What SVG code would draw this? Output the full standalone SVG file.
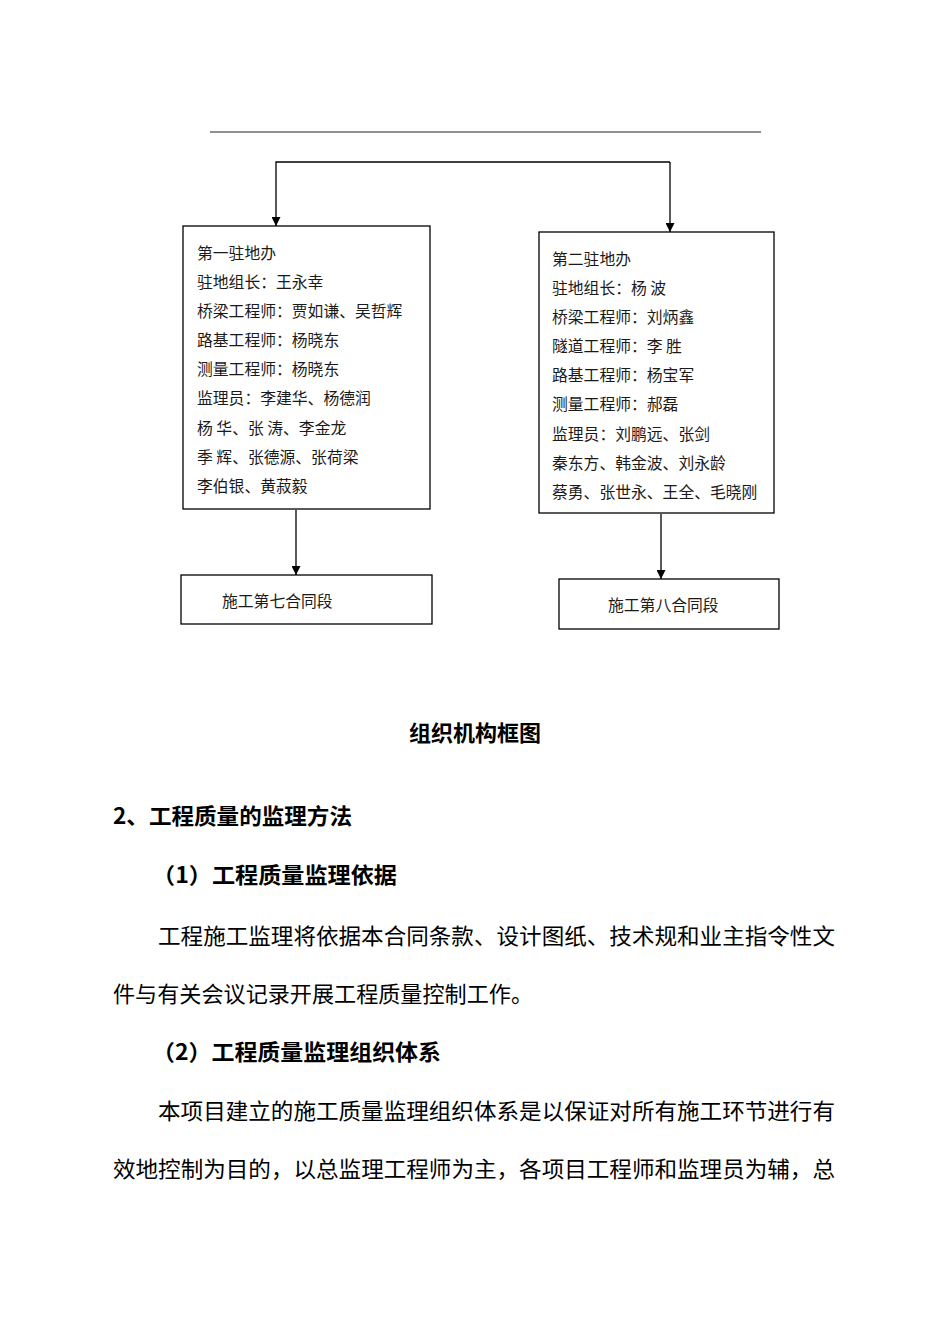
<svg xmlns="http://www.w3.org/2000/svg" width="950" height="1344" viewBox="0 0 950 1344">
<defs>
<style>
.bx{fill:#fff;stroke:#000;stroke-width:1.3}
.ln{fill:none;stroke:#000;stroke-width:1.3}
.t{font-family:"Noto Sans CJK SC","Noto Sans CJK JP",sans-serif;font-size:15.8px;fill:#1a1a1a}
.h{font-family:"Noto Sans CJK SC","Noto Sans CJK JP",sans-serif;font-size:22px;font-weight:bold;fill:#000}
.p{font-family:"Noto Sans CJK SC","Noto Sans CJK JP",sans-serif;font-size:22px;fill:#000}
</style>
<marker id="ah" viewBox="0 0 10 10" refX="10" refY="5" markerWidth="11" markerHeight="9" markerUnits="userSpaceOnUse" orient="auto">
<path d="M0,0 L10,5 L0,10 Z" fill="#000"/>
</marker>
</defs>
<rect width="950" height="1344" fill="#fff"/>
<line x1="210" y1="132" x2="761" y2="132" stroke="#222" stroke-width="1.2"/>
<g id="connectors">
<path class="ln" d="M670,162 L276,162 L276,226" marker-end="url(#ah)"/>
<path class="ln" d="M670,162 L670,232" marker-end="url(#ah)"/>
<path class="ln" d="M296,510 L296,575" marker-end="url(#ah)"/>
<path class="ln" d="M661,514 L661,579" marker-end="url(#ah)"/>
</g>
<g id="office1">
<rect class="bx" x="183" y="226" width="247" height="283"/>
<text class="t" x="197" y="259">第一驻地办</text>
<text class="t" x="197" y="288">驻地组长：王永幸</text>
<text class="t" x="197" y="317">桥梁工程师：贾如谦、吴哲辉</text>
<text class="t" x="197" y="346">路基工程师：杨晓东</text>
<text class="t" x="197" y="375">测量工程师：杨晓东</text>
<text class="t" x="197" y="404">监理员：李建华、杨德润</text>
<text class="t" x="197" y="434">杨 华、张 涛、李金龙</text>
<text class="t" x="197" y="463">季 辉、张德源、张荷梁</text>
<text class="t" x="197" y="492">李伯银、黄菽毅</text>
</g>
<g id="office2">
<rect class="bx" x="539" y="232" width="235" height="281"/>
<text class="t" x="552" y="265">第二驻地办</text>
<text class="t" x="552" y="294">驻地组长：杨 波</text>
<text class="t" x="552" y="323">桥梁工程师：刘炳鑫</text>
<text class="t" x="552" y="352">隧道工程师：李 胜</text>
<text class="t" x="552" y="381">路基工程师：杨宝军</text>
<text class="t" x="552" y="410">测量工程师：郝磊</text>
<text class="t" x="552" y="440">监理员：刘鹏远、张剑</text>
<text class="t" x="552" y="469">秦东方、韩金波、刘永龄</text>
<text class="t" x="552" y="498">蔡勇、张世永、王全、毛晓刚</text>
</g>
<g id="section7">
<rect class="bx" x="181" y="575" width="251" height="49"/>
<text class="t" x="222" y="607">施工第七合同段</text>
</g>
<g id="section8">
<rect class="bx" x="559" y="579" width="220" height="50"/>
<text class="t" x="608" y="611">施工第八合同段</text>
</g>
<text class="h" x="475" y="741" text-anchor="middle">组织机构框图</text>
<text class="h" x="113" y="824" textLength="239" lengthAdjust="spacingAndGlyphs">2、工程质量的监理方法</text>
<text class="h" x="152" y="883" textLength="245" lengthAdjust="spacingAndGlyphs">（1）工程质量监理依据</text>
<text class="p" x="158" y="944" textLength="677" lengthAdjust="spacingAndGlyphs">工程施工监理将依据本合同条款、设计图纸、技术规和业主指令性文</text>
<text class="p" x="113" y="1002" textLength="420" lengthAdjust="spacingAndGlyphs">件与有关会议记录开展工程质量控制工作。</text>
<text class="h" x="152" y="1060" textLength="289" lengthAdjust="spacingAndGlyphs">（2）工程质量监理组织体系</text>
<text class="p" x="158" y="1119" textLength="677" lengthAdjust="spacingAndGlyphs">本项目建立的施工质量监理组织体系是以保证对所有施工环节进行有</text>
<text class="p" x="113" y="1177" textLength="722" lengthAdjust="spacingAndGlyphs">效地控制为目的，以总监理工程师为主，各项目工程师和监理员为辅，总</text>
</svg>
